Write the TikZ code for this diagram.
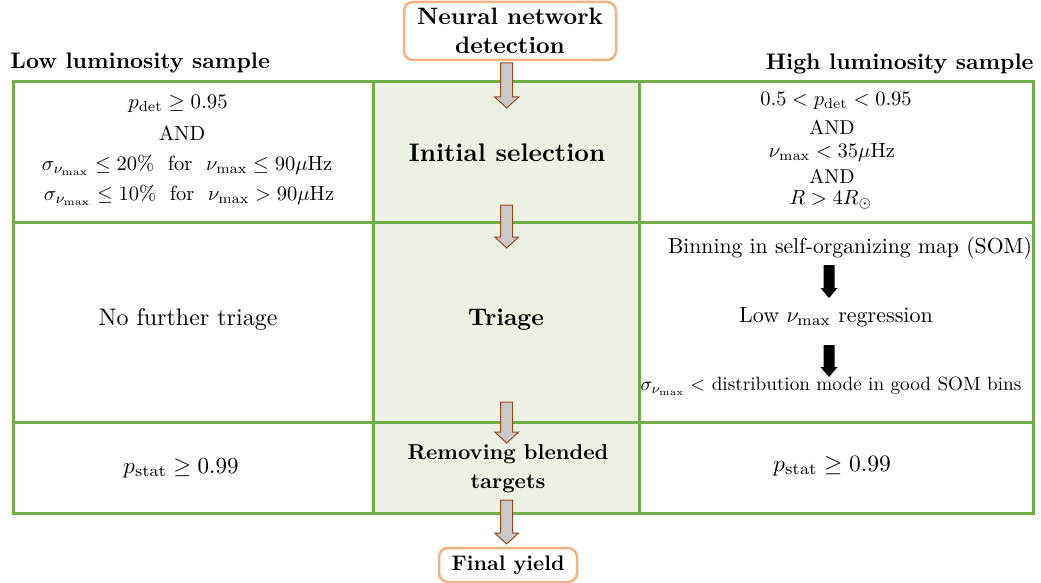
\documentclass[tikz,border=0pt]{standalone}
\definecolor{cellgreen}{RGB}{112,173,71}
\definecolor{midfill}{RGB}{235,242,228}
\definecolor{boxorange}{RGB}{244,177,131}
\definecolor{arrowgray}{RGB}{200,200,200}
\definecolor{arrowbrown}{RGB}{150,75,30}
\tikzset{
  cell/.style={draw=cellgreen, line width=3pt, rectangle, inner sep=0pt, anchor=north west},
  midcell/.style={cell, fill=midfill},
  orangebox/.style={draw=boxorange, line width=2.5pt, rounded corners=9pt, fill=white, inner sep=0pt},
  blockarr/.style={draw=arrowbrown, fill=arrowgray, line width=1pt, line join=miter},
  blackarr/.style={fill=black, draw=none},
  txt/.style={inner sep=0pt, align=center, scale=#1},
}
\newcommand\blockarrow[4]{%
  \draw[blockarr] ({#1-6},#2) -- ({#1-6},#3) -- ({#1-12},#3) -- (#1,#4) -- ({#1+12},#3) -- ({#1+6},#3) -- ({#1+6},#2) -- cycle;}
\newcommand\blackarrow[4]{%
  \fill[blackarr] ({#1-5.5},#2) -- ({#1-5.5},#3) -- ({#1-8.5},#3) -- (#1,#4) -- ({#1+8.5},#3) -- ({#1+5.5},#3) -- ({#1+5.5},#2) -- cycle;}
\begin{document}
\begin{tikzpicture}[x=1pt,y=-1pt]
\useasboundingbox (0,0) rectangle (1041,583);
% cells
\node[midcell, minimum width=266pt, minimum height=141pt] (M1) at (372,80) {};
\node[midcell, minimum width=266pt, minimum height=200pt] (M2) at (372,221) {};
\node[midcell, minimum width=266pt, minimum height=91pt] (M3) at (372,421) {};
\node[cell, minimum width=360pt, minimum height=141pt] (L1) at (12,80) {};
\node[cell, minimum width=360pt, minimum height=200pt] (L2) at (12,221) {};
\node[cell, minimum width=360pt, minimum height=91pt] (L3) at (12,421) {};
\node[cell, minimum width=394pt, minimum height=141pt] (R1) at (638,80) {};
\node[cell, minimum width=394pt, minimum height=200pt] (R2) at (638,221) {};
\node[cell, minimum width=394pt, minimum height=91pt] (R3) at (638,421) {};
% titles
\node[txt=2.25, anchor=base west] (lowt) at (10,69) {\bfseries Low luminosity sample};
\node[txt=2.25, anchor=base east] (hight) at (1034,70) {\bfseries High luminosity sample};
% top and bottom boxes
\node[orangebox, minimum width=212pt, minimum height=58pt] (nn) at (510,31) {};
\node[txt=2.37] (nnt) at (510,31) {\bfseries Neural network\\\bfseries detection};
\node[orangebox, minimum width=138pt, minimum height=34pt] (fy) at (508,565) {};
\node[txt=2.11] (fyt) at (508,565) {\bfseries Final yield};
% block arrows
\blockarrow{506.7}{63}{97}{108}
\blockarrow{506.7}{205}{237}{248}
\blockarrow{506.7}{402}{432}{443}
\blockarrow{506.7}{500}{533}{544}
% middle texts
\node[txt=2.54] (ini) at (507,153) {\bfseries Initial selection};
\node[txt=2.4] (tri) at (506,320) {\bfseries Triage};
\node[txt=2.15] (rem) at (508,469) {\bfseries Removing blended\\[1.5pt]\bfseries targets};
% left texts
\node[txt=2.08] (l1a) at (178,104) {$p_{\mathrm{det}} \geq 0.95$};
\node[txt=2.05] (l1b) at (182,133) {AND};
\node[txt=2.05] (l1c) at (187,165) {$\sigma_{\nu_{\max}} \leq 20\%$ \ for \ $\nu_{\max} \leq 90\mu$Hz};
\node[txt=2.05] (l1d) at (189,195) {$\sigma_{\nu_{\max}} \leq 10\%$ \ for \ $\nu_{\max} > 90\mu$Hz};
\node[txt=2.4] (l2) at (188,320) {No further triage};
\node[txt=2.3] (l3) at (181,468) {$p_{\mathrm{stat}} \geq 0.99$};
% right texts
\node[txt=2.05] (r1a) at (836,101) {$0.5 < p_{\mathrm{det}} < 0.95$};
\node[txt=2.0] (r1b) at (832,127) {AND};
\node[txt=2.05] (r1c) at (832,152) {$\nu_{\max} < 35\mu$Hz};
\node[txt=2.0] (r1d) at (832,176) {AND};
\node[txt=2.05] (r1e) at (831,200) {$R > 4R_{\odot}$};
\node[txt=2.17] (r2a) at (850,248) {Binning in self-organizing map (SOM)};
\node[txt=2.2] (r2b) at (836,317) {Low $\nu_{\max}$ regression};
\node[txt=1.92] (r2c) at (831,386) {$\sigma_{\nu_{\max}} <$ distribution mode in good SOM bins};
\node[txt=2.35] (r3) at (832,466) {$p_{\mathrm{stat}} \geq 0.99$};
% black arrows
\blackarrow{829}{265}{288}{298}
\blackarrow{829}{345}{367}{377}
\end{tikzpicture}
\end{document}
